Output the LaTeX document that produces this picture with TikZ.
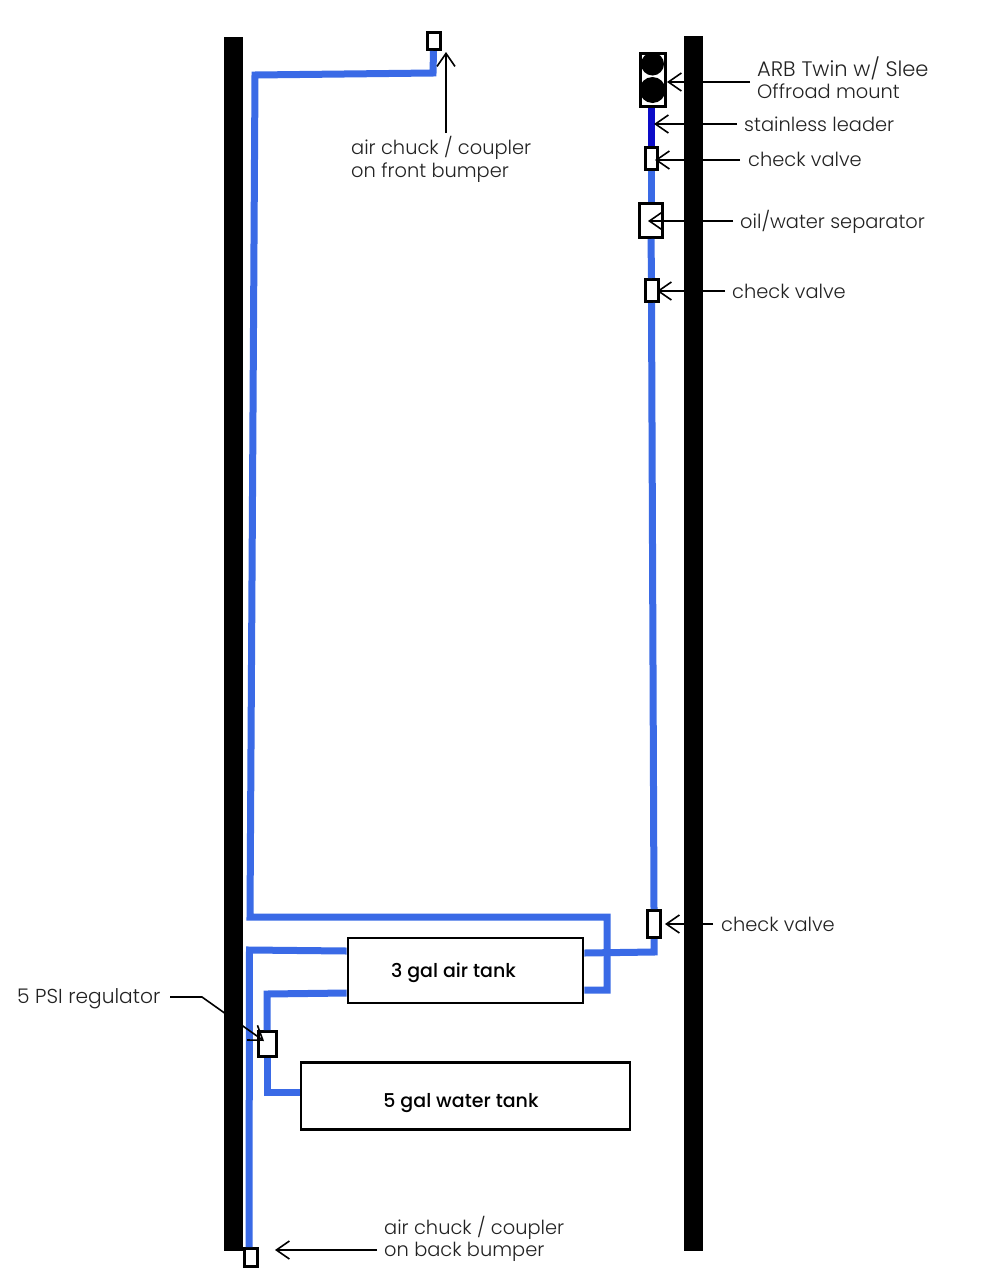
\documentclass[tikz,border=0pt]{standalone}
\usepackage{fontspec}
\setmainfont{Poppins}
\newfontfamily\lightfont{Poppins Light}
\newfontfamily\mediumfont{Poppins Medium}
\usetikzlibrary{arrows.meta}
\definecolor{pipe}{HTML}{3A6AE6}
\definecolor{leaderblue}{HTML}{0C0CC8}
\definecolor{ink}{HTML}{222222}
\tikzset{
  x=1pt,y=-1pt,
  bar/.style={fill=black,draw=none,minimum width=19.5pt,inner sep=0pt,outer sep=0pt},
  pipeline/.style={draw=pipe,line width=7pt,line join=miter,miter limit=2},
  leadpipe/.style={draw=leaderblue,line width=7pt},
  fitting/.style={draw=black,fill=white,line width=3pt,inner sep=0pt,outer sep=1.5pt},
  tank/.style={draw=black,fill=white,line width=2.8pt,inner sep=0pt,outer sep=1.4pt},
  ball/.style={circle,fill=black,inner sep=0pt,outer sep=0pt},
  pointer/.style={draw=black,line width=1.6pt,-{Straight Barb[length=13pt,width=18pt,line width=1.6pt]}},
  lbl/.style={anchor=base west,inner sep=0pt,text=ink,font=\lightfont\fontsize{19.4}{22}\selectfont},
  lblwide/.style={lbl,font=\lightfont\fontsize{21}{22}\selectfont},
  lblmid/.style={lbl,font=\lightfont\fontsize{20.2}{22}\selectfont},
  tanklbl/.style={anchor=base,inner sep=0pt,text=black,font=\mediumfont\fontsize{19}{22}\selectfont},
}
\begin{document}
\begin{tikzpicture}
\useasboundingbox (0,0) rectangle (989,1280);
\fill[white] (0,0) rectangle (989,1280);
% pointers' free ends
\coordinate (pARBs) at (750,82);   \coordinate (pARBe) at (667,82);
\coordinate (pSLs) at (737,124);   \coordinate (pSLe) at (654,124);
\coordinate (pCV1s) at (740,160);  \coordinate (pCV1e) at (655,160);
\coordinate (pOWs) at (733,221);   \coordinate (pOWe) at (648,221);
\coordinate (pCV2s) at (725,291);  \coordinate (pCV2e) at (657,291);
\coordinate (pCV3s) at (713,924);  \coordinate (pCV3e) at (665,924);
\coordinate (pFs) at (446,133);    \coordinate (pFe) at (446,52);
\coordinate (pBs) at (377,1250);   \coordinate (pBe) at (275,1250);
\coordinate (pRa) at (170,997);    \coordinate (pRb) at (202,997);
\coordinate (pRe) at (264,1041);
% pipe corners
\coordinate (u1) at (433,73);  \coordinate (u2) at (255,75);
\coordinate (u3) at (250,917); \coordinate (u4) at (607,917);
\coordinate (u5) at (607,990); \coordinate (u6) at (584.4,990);
\coordinate (i1) at (584.4,953); \coordinate (i2) at (654,952);
\coordinate (a1) at (346.6,951); \coordinate (a2) at (249.5,950); \coordinate (a3) at (249,1247);
\coordinate (b1) at (346.6,993); \coordinate (b2) at (267,994);
\coordinate (c1) at (267,1092);\coordinate (c2) at (299.6,1092);
% rails
\node[bar,minimum height=1214pt] (railL) at (233.7,644) {};
\node[bar,minimum height=1215pt] (railR) at (693.5,643.5) {};
% tanks and fittings
\node[tank,minimum width=235pt,minimum height=65pt] (air) at (465.5,970.5) {};
\node[tank,minimum width=329pt,minimum height=67pt] (water) at (465.5,1096) {};
\node[fitting,minimum width=13pt,minimum height=17pt] (chuckF) at (433.5,41) {};
\node[fitting,minimum width=13pt,minimum height=18pt] (chuckB) at (250.5,1257) {};
\node[fitting,minimum width=18pt,minimum height=25pt] (reg) at (267,1044) {};
\node[fitting,minimum width=25pt,minimum height=53pt] (comp) at (652.5,80) {};
\node[fitting,minimum width=12pt,minimum height=22pt] (cv1) at (651,158.5) {};
\node[fitting,minimum width=23pt,minimum height=34pt] (sep) at (651,220.5) {};
\node[fitting,minimum width=13pt,minimum height=22pt] (cv2) at (651.5,290.5) {};
\node[fitting,minimum width=13pt,minimum height=27pt] (cv3) at (654,924) {};
\node[ball,minimum size=23pt] (ball1) at (652.5,64) {};
\node[ball,minimum size=26pt] (ball2) at (652.5,90) {};
% pipes
\draw[pipeline] (chuckF.south) -- (u1) -- (u2) -- (u3) -- (u4) -- (u5) -- (u6);
\draw[pipeline] (i1) -- (i2) -- (cv3.south);
\draw[pipeline] (cv3.north) -- (cv2.south);
\draw[pipeline] (cv2.north) -- (sep.south);
\draw[pipeline] (sep.north) -- (cv1.south);
\draw[leadpipe] (cv1.north) -- (cv1.north |- comp.south);
\draw[pipeline] (a1) -- (a2) -- (a3);
\draw[pipeline] (b1) -- (b2) -- (reg.north);
\draw[pipeline] (reg.south) -- (c1) -- (c2);
% pointers
\draw[pointer] (pARBs) -- (pARBe);
\draw[pointer] (pSLs) -- (pSLe);
\draw[pointer] (pCV1s) -- (pCV1e);
\draw[pointer] (pOWs) -- (pOWe);
\draw[pointer] (pCV2s) -- (pCV2e);
\draw[pointer] (pCV3s) -- (pCV3e);
\draw[pointer] (pFs) -- (pFe);
\draw[pointer] (pBs) -- (pBe);
\draw[pointer] (pRa) -- (pRb) -- (pRe);
% labels
\node[lblwide] (t1) at (757,76) {ARB Twin w/ Slee};
\node[lbl] (t2) at (757,98) {Offroad mount};
\node[lbl] (t3) at (744,131) {stainless leader};
\node[lbl] (t4) at (748,166) {check valve};
\node[lbl] (t5) at (740,228) {oil/water separator};
\node[lbl] (t6) at (732,298) {check valve};
\node[lbl] (t7) at (351,154) {air chuck / coupler};
\node[lbl] (t8) at (351,177) {on front bumper};
\node[lbl] (t9) at (721,931) {check valve};
\node[lblmid] (t10) at (17,1003) {5 PSI regulator};
\node[lbl] (t11) at (384,1234) {air chuck / coupler};
\node[lbl] (t12) at (384,1256) {on back bumper};
\node[tanklbl] (t13) at (453.5,977) {3 gal air tank};
\node[tanklbl] (t14) at (461,1107) {5 gal water tank};
\end{tikzpicture}
\end{document}
